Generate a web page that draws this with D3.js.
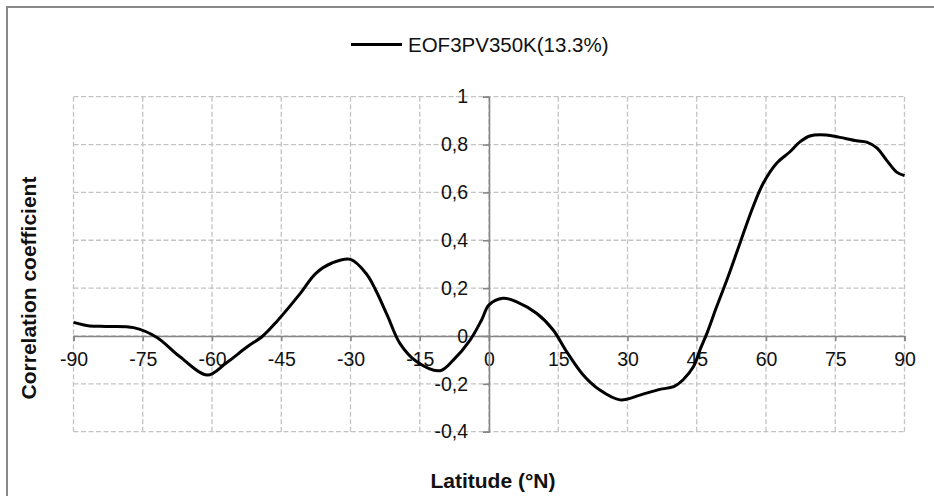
<!DOCTYPE html>
<html>
<head>
<meta charset="utf-8">
<script src="https://cdn.jsdelivr.net/npm/d3@7"></script>
<style>
  html, body { margin: 0; padding: 0; background: #fff; }
  svg { display: block; font-family: "Liberation Sans", Arial, sans-serif; }
</style>
</head>
<body>
<svg id="chart" width="934" height="496"></svg>
<script>
// Correlation of EOF3 of PV on the 350K surface with latitude
const seriesName = "EOF3PV350K(13.3%)";
const latitudes = [-90, -86.5, -83, -77, -72, -67, -61, -57, -52.5, -49, -46, -41, -37.5,
  -34, -30, -26.5, -24.5, -22, -19.3, -15.7, -10.6, -7.7, -4.1, -1.6, 0, 3, 6, 10.3,
  13.9, 16.8, 20.4, 24, 28.4, 32.7, 37, 40, 42, 44.3, 45.7, 47.2, 49.3, 51.5, 54.4, 57.2,
  59.4, 62.3, 65.2, 67.4, 69.5, 73, 76, 79.6, 81.8, 84, 86.1, 88.3, 90];
const correlation = [0.057, 0.042, 0.040, 0.035, -0.005, -0.086, -0.163, -0.114, -0.047, 0.0,
  0.06, 0.175, 0.262, 0.305, 0.32, 0.258, 0.19, 0.085, -0.031, -0.107, -0.145, -0.10,
  -0.017, 0.067, 0.13, 0.158, 0.143, 0.095, 0.025, -0.065, -0.163, -0.226, -0.267, -0.247,
  -0.223, -0.212, -0.184, -0.128, -0.058, 0.011, 0.122, 0.233, 0.39, 0.54, 0.638, 0.722,
  0.770, 0.812, 0.836, 0.84, 0.83, 0.816, 0.81, 0.786, 0.735, 0.685, 0.67];
const xTicks = [-90, -75, -60, -45, -30, -15, 0, 15, 30, 45, 60, 75, 90];
const yTicks = [-0.4, -0.2, 0, 0.2, 0.4, 0.6, 0.8, 1];

const svg = d3.select("#chart");
const plotLeft = 73.5, plotRight = 904.5, plotTop = 96.7, plotBottom = 431.7;

const x = d3.scaleLinear().domain([-90, 90]).range([plotLeft, plotRight]);
const y = d3.scaleLinear().domain([-0.4, 1]).range([plotBottom, plotTop]);

// outer chart frame
svg.append("rect")
  .attr("x", 7).attr("y", 7).attr("width", 940).attr("height", 500)
  .attr("fill", "none").attr("stroke", "#888").attr("stroke-width", 2);

// dashed gridlines
const grid = svg.append("g").attr("stroke", "#c3c3c3").attr("stroke-width", 1.3)
  .attr("stroke-dasharray", "5,2.5").attr("fill", "none");
grid.selectAll("line.v").data(xTicks).enter().append("line")
  .attr("x1", d => x(d)).attr("x2", d => x(d)).attr("y1", plotTop).attr("y2", plotBottom);
grid.selectAll("line.h").data(yTicks).enter().append("line")
  .attr("y1", d => y(d)).attr("y2", d => y(d)).attr("x1", plotLeft).attr("x2", plotRight);

// x axis through zero
const xAxis = d3.axisBottom(x).tickValues(xTicks).tickFormat(d => String(d))
  .tickSize(5).tickPadding(11);
const gx = svg.append("g").attr("transform", `translate(0,${y(0)})`).call(xAxis);
gx.select(".domain").attr("stroke", "#868686").attr("stroke-width", 1.6);
gx.selectAll(".tick line").attr("stroke", "#868686").attr("stroke-width", 1.6);
gx.selectAll(".tick text").attr("font-size", 19.5).attr("fill", "#111")
  .attr("font-family", "Liberation Sans, Arial, sans-serif");

// y axis through zero latitude
const yAxis = d3.axisLeft(y).tickValues(yTicks)
  .tickFormat(d => String(+d.toFixed(1)).replace(".", ","))
  .tickSize(6).tickPadding(15);
const gy = svg.append("g").attr("transform", `translate(${x(0)},0)`).call(yAxis);
gy.select(".domain").attr("stroke", "#868686").attr("stroke-width", 1.6);
gy.selectAll(".tick line").attr("stroke", "#868686").attr("stroke-width", 1.6);
gy.selectAll(".tick text").attr("font-size", 19.5).attr("fill", "#111")
  .attr("font-family", "Liberation Sans, Arial, sans-serif");

// correlation curve
const pts = latitudes.map((d, i) => [d, correlation[i]]);
svg.append("path").datum(pts)
  .attr("fill", "none").attr("stroke", "#000").attr("stroke-width", 3)
  .attr("stroke-linejoin", "round")
  .attr("d", d3.line().x(d => x(d[0])).y(d => y(d[1])).curve(d3.curveCatmullRom.alpha(0.5)));

// legend
svg.append("line").attr("x1", 351).attr("x2", 402).attr("y1", 44.5).attr("y2", 44.5)
  .attr("stroke", "#000").attr("stroke-width", 3);
svg.append("text").attr("x", 408).attr("y", 51.5).attr("font-size", 20.5).attr("fill", "#111")
  .text(seriesName);

// axis titles
svg.append("text").attr("x", 493).attr("y", 488).attr("text-anchor", "middle")
  .attr("font-size", 21).attr("font-weight", "bold").attr("fill", "#111")
  .text("Latitude (°N)");
svg.append("text").attr("transform", "translate(36,288) rotate(-90)")
  .attr("text-anchor", "middle").attr("font-size", 21).attr("font-weight", "bold")
  .attr("fill", "#111").text("Correlation coefficient");
</script>
</body>
</html>
